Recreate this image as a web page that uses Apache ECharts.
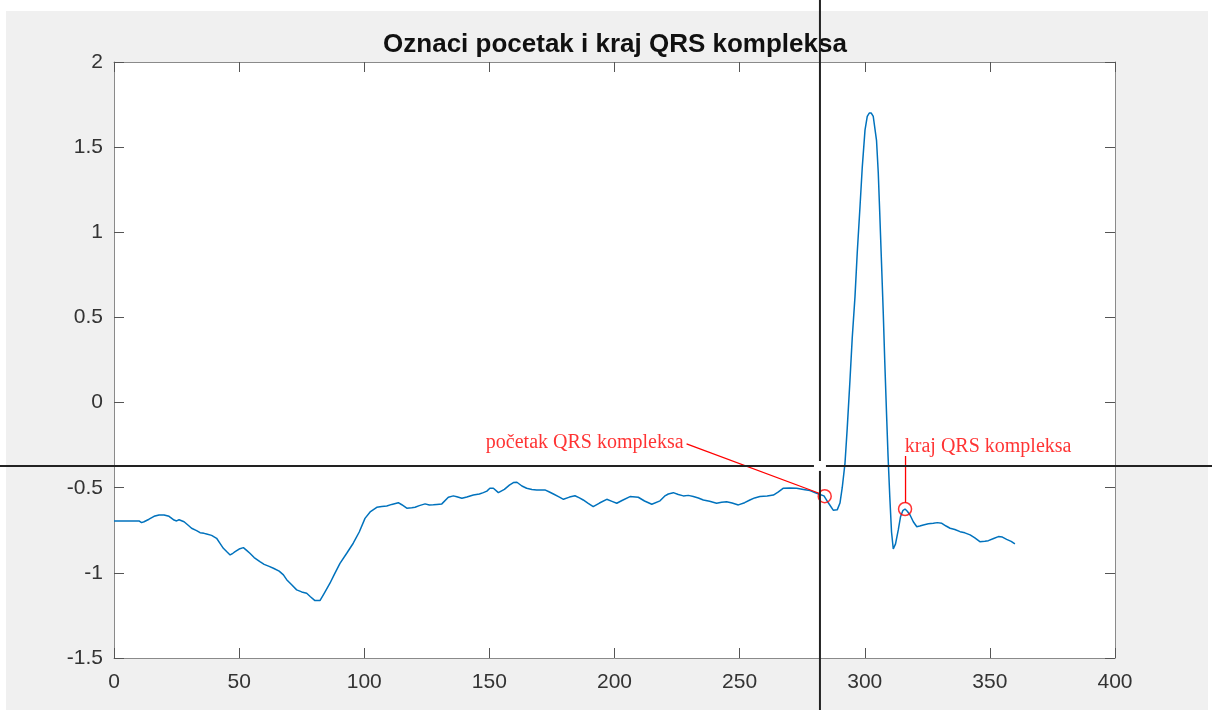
<!DOCTYPE html>
<html>
<head>
<meta charset="utf-8">
<script src="https://cdn.jsdelivr.net/npm/echarts@6/dist/echarts.min.js"></script>
<style>
html,body{margin:0;padding:0;background:#fff;}
#bg{position:absolute;left:6px;top:11px;width:1202px;height:699px;background:#f0f0f0;}
#c{position:absolute;left:0;top:0;width:1212px;height:710px;}
</style>
</head>
<body>
<div id="bg"></div>
<div id="c"></div>
<script>
// ---- data ----
const titleText = 'Oznaci pocetak i kraj QRS kompleksa';
const xTicks = [0, 50, 100, 150, 200, 250, 300, 350, 400];
const yTicks = [-1.5, -1, -0.5, 0, 0.5, 1, 1.5, 2];

const sigX = [0,5,10,11,12,14,16,18,20,22,24,25,26,28,30,31,33,34.4,36,37,39,41,42.5,43.7,45,46.4,47.5,48.4,50,51.7,53,54.3,56,58.3,60,62,63.7,66,67.7,69,71,73,75,77,78.5,80.3,82.3,84,86.3,88,90.3,93,95.6,98,100.3,102.5,105,107,109,111,113.6,115,117,119,120.3,122,124.3,126,127.6,129,131,133.6,135.6,137,139,141,143.6,146,147.6,149,150.2,151.6,153.6,156,158,159.6,161,163,164.9,167,168.9,172.2,174,175.6,178,179.6,182,184.2,186,187.5,189.5,191.5,194,196.9,199,200.9,203,206.2,209.5,212,214.9,218.2,220,221.5,223.5,225.5,227.5,229.5,231.5,233.5,235.5,238,240.8,242.8,244.8,247,249.5,252,254.1,256,258.1,261,263.5,265.5,267.5,270,272.8,275.5,278.1,280,282.1,283.7,285.5,287.4,288.1,289,290.1,291,292.1,293,294.1,295,296.1,297,298.1,299,300.1,301,301.8,302.6,303.4,304.7,305.4,306,306.7,307.4,308,308.7,309.3,310,310.7,311.4,312.3,313.4,314.3,315.2,316.1,317,318.1,319.4,320.8,322,323.4,325.4,327.4,329,330.8,332.5,334.1,336,338.1,340,342.1,344,346,348,349.4,351.5,353.4,355,356.7,358.5,360];
const sigY = [-0.695,-0.695,-0.695,-0.705,-0.70,-0.685,-0.668,-0.66,-0.66,-0.668,-0.69,-0.695,-0.688,-0.70,-0.725,-0.738,-0.752,-0.764,-0.768,-0.772,-0.78,-0.797,-0.83,-0.856,-0.875,-0.895,-0.885,-0.875,-0.86,-0.852,-0.868,-0.885,-0.91,-0.934,-0.95,-0.962,-0.973,-0.99,-1.012,-1.04,-1.07,-1.10,-1.112,-1.12,-1.14,-1.163,-1.163,-1.12,-1.061,-1.01,-0.944,-0.885,-0.826,-0.76,-0.68,-0.64,-0.615,-0.61,-0.607,-0.598,-0.588,-0.60,-0.62,-0.618,-0.615,-0.605,-0.595,-0.602,-0.60,-0.598,-0.595,-0.556,-0.548,-0.553,-0.562,-0.555,-0.543,-0.537,-0.529,-0.52,-0.503,-0.503,-0.529,-0.51,-0.485,-0.47,-0.468,-0.49,-0.503,-0.51,-0.513,-0.513,-0.525,-0.537,-0.555,-0.568,-0.555,-0.547,-0.56,-0.572,-0.592,-0.611,-0.59,-0.568,-0.58,-0.591,-0.575,-0.552,-0.556,-0.578,-0.597,-0.577,-0.55,-0.537,-0.529,-0.54,-0.548,-0.545,-0.552,-0.56,-0.572,-0.58,-0.591,-0.585,-0.582,-0.59,-0.601,-0.588,-0.572,-0.56,-0.552,-0.548,-0.543,-0.525,-0.503,-0.502,-0.503,-0.51,-0.517,-0.528,-0.54,-0.548,-0.59,-0.632,-0.64,-0.63,-0.59,-0.50,-0.357,-0.15,0.133,0.38,0.622,0.88,1.15,1.38,1.60,1.68,1.70,1.70,1.68,1.54,1.35,1.11,0.82,0.524,0.24,-0.063,-0.31,-0.552,-0.76,-0.86,-0.83,-0.748,-0.67,-0.635,-0.625,-0.638,-0.66,-0.70,-0.729,-0.725,-0.719,-0.712,-0.709,-0.705,-0.709,-0.725,-0.738,-0.745,-0.758,-0.765,-0.777,-0.795,-0.817,-0.815,-0.811,-0.798,-0.787,-0.79,-0.803,-0.815,-0.83];

const qrsStart = [284, -0.55];
const qrsEnd = [316.1, -0.625];
const startLabel = 'početak QRS kompleksa';
const endLabel = 'kraj QRS kompleksa';
const startLabelAnchor = [227.8, -0.236];
const endLabelAnchor = [315.8, -0.259];
const startLink = [[228.8, -0.243], [281.5, -0.531]];
const endLink = [[316.3, -0.314], [316.3, -0.588]];
const cursorPos = [282.1, -0.372];

// ---- chart ----
const chart = echarts.init(document.getElementById('c'), null, {renderer: 'canvas'});
const axisLineStyle = {color: '#8a8a8a', width: 1};
const tickStyle = {color: '#555', width: 1};
const labelStyle = {fontSize: 21, color: '#333', fontFamily: 'Liberation Sans, Arial, sans-serif'};
const annStyle = {color: '#ff0000', fontSize: 20, fontFamily: 'Liberation Serif, Times New Roman, serif'};

const option = {
  animation: false,
  backgroundColor: 'transparent',
  title: {
    text: titleText,
    left: 610,
    top: 27,
    textAlign: 'center',
    textStyle: {fontSize: 26, fontWeight: 'bold', color: '#111', fontFamily: 'Liberation Sans, Arial, sans-serif'}
  },
  grid: {left: 114, right: 97, top: 62, bottom: 52, show: true, backgroundColor: '#fff', borderWidth: 0},
  xAxis: [
    {type: 'value', min: xTicks[0], max: xTicks[xTicks.length - 1], interval: xTicks[1] - xTicks[0],
     axisLine: {show: true, onZero: false, lineStyle: axisLineStyle},
     axisTick: {show: true, inside: true, length: 10, lineStyle: tickStyle},
     axisLabel: Object.assign({margin: 14}, labelStyle),
     splitLine: {show: false}},
    {type: 'value', position: 'top', min: xTicks[0], max: xTicks[xTicks.length - 1], interval: xTicks[1] - xTicks[0],
     axisLine: {show: true, onZero: false, lineStyle: axisLineStyle},
     axisTick: {show: true, inside: true, length: 10, lineStyle: tickStyle},
     axisLabel: {show: false}, splitLine: {show: false}}
  ],
  yAxis: [
    {type: 'value', min: yTicks[0], max: yTicks[yTicks.length - 1], interval: yTicks[1] - yTicks[0],
     axisLine: {show: true, onZero: false, lineStyle: axisLineStyle},
     axisTick: {show: true, inside: true, length: 10, lineStyle: tickStyle},
     axisLabel: Object.assign({margin: 11}, labelStyle),
     splitLine: {show: false}},
    {type: 'value', position: 'right', min: yTicks[0], max: yTicks[yTicks.length - 1], interval: yTicks[1] - yTicks[0],
     axisLine: {show: true, onZero: false, lineStyle: axisLineStyle},
     axisTick: {show: true, inside: true, length: 10, lineStyle: tickStyle},
     axisLabel: {show: false}, splitLine: {show: false}}
  ],
  series: [
    {type: 'line', name: 'ecg', data: sigX.map((x, i) => [x, sigY[i]]), showSymbol: false, symbol: 'none',
     lineStyle: {color: '#0072BD', width: 1.5}, z: 3, silent: true},
    {type: 'line', name: 'startLink', data: startLink, symbol: 'none', lineStyle: {color: '#ff0000', width: 1.3}, z: 6, silent: true},
    {type: 'line', name: 'endLink', data: endLink, symbol: 'none', lineStyle: {color: '#ff0000', width: 1.3}, z: 6, silent: true},
    {type: 'scatter', name: 'markers', data: [qrsStart, qrsEnd], symbol: 'circle', symbolSize: 13,
     itemStyle: {color: 'rgba(0,0,0,0)', borderColor: '#ff0000', borderWidth: 1.5}, z: 7, silent: true},
    {type: 'scatter', name: 'labels', symbolSize: 1, itemStyle: {color: 'rgba(0,0,0,0)'}, z: 8, silent: true,
     data: [
       {value: startLabelAnchor, label: Object.assign({show: true, formatter: startLabel, position: 'left', distance: 0, align: 'right', verticalAlign: 'middle'}, annStyle)},
       {value: endLabelAnchor, label: Object.assign({show: true, formatter: endLabel, position: 'right', distance: 0, align: 'left', verticalAlign: 'middle'}, annStyle)}
     ]}
  ]
};
chart.setOption(option);

// crosshair cursor (figure-wide), placed from data coordinates
const p = chart.convertToPixel({xAxisIndex: 0, yAxisIndex: 0}, cursorPos);
const gap = 5;
const cStyle = {stroke: '#222', lineWidth: 2};
chart.setOption({
  graphic: [
    {type: 'line', z: 50, shape: {x1: p[0], y1: 0, x2: p[0], y2: p[1] - gap}, style: cStyle, silent: true},
    {type: 'line', z: 50, shape: {x1: p[0], y1: p[1] + gap, x2: p[0], y2: 710}, style: cStyle, silent: true},
    {type: 'line', z: 50, shape: {x1: 0, y1: p[1], x2: p[0] - gap - 1, y2: p[1]}, style: cStyle, silent: true},
    {type: 'line', z: 50, shape: {x1: p[0] + gap + 1, y1: p[1], x2: 1212, y2: p[1]}, style: cStyle, silent: true}
  ]
});
</script>
</body>
</html>
